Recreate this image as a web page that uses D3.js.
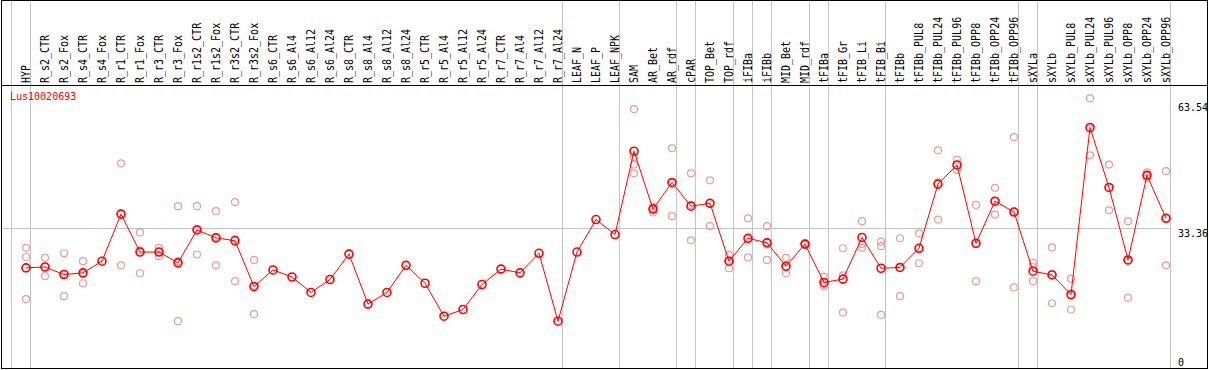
<!DOCTYPE html>
<html>
<head>
<meta charset="utf-8">
<script src="https://cdn.jsdelivr.net/npm/d3@7"></script>
<style>
  body { margin: 0; background: #fff; }
  text { font-family: 'DejaVu Sans Mono', monospace; font-size: 10px; }
</style>
</head>
<body>
<script>
var gene = 'Lus10020693';

var labels = ['HYP', 'R_s2_CTR', 'R_s2_Fox', 'R_s4_CTR', 'R_s4_Fox', 'R_r1_CTR', 'R_r1_Fox', 'R_r3_CTR', 'R_r3_Fox',
  'R_r1s2_CTR', 'R_r1s2_Fox', 'R_r3s2_CTR', 'R_r3s2_Fox', 'R_s6_CTR', 'R_s6_Al4', 'R_s6_Al12', 'R_s6_Al24',
  'R_s8_CTR', 'R_s8_Al4', 'R_s8_Al12', 'R_s8_Al24', 'R_r5_CTR', 'R_r5_Al4', 'R_r5_Al12', 'R_r5_Al24',
  'R_r7_CTR', 'R_r7_Al4', 'R_r7_Al12', 'R_r7_Al24', 'LEAF_N', 'LEAF_P', 'LEAF_NPK', 'SAM', 'AR_Bet', 'AR_rdf',
  'cPAR', 'TOP_Bet', 'TOP_rdf', 'iFIBa', 'iFIBb', 'MID_Bet', 'MID_rdf', 'tFIBa', 'tFIB_Gr', 'tFIB_Li', 'tFIB_Bi',
  'tFIBb', 'tFIBb_PUL8', 'tFIBb_PUL24', 'tFIBb_PUL96', 'tFIBb_OPP8', 'tFIBb_OPP24', 'tFIBb_OPP96',
  'sXYLa', 'sXYLb', 'sXYLb_PUL8', 'sXYLb_PUL24', 'sXYLb_PUL96', 'sXYLb_OPP8', 'sXYLb_OPP24', 'sXYLb_OPP96'];

// number of columns in each tissue group (separated by grey lines)
var groupSizes = [1, 28, 3, 3, 1, 2, 1, 1, 2, 1, 3, 7, 1, 7];

var means = [23.8, 24.0, 22.2, 22.6, 25.4, 36.7, 27.6, 27.6, 25.0, 32.9, 31.0, 30.3, 19.3, 23.3, 21.6, 17.9,
  21.0, 27.1, 15.1, 17.9, 24.4, 20.1, 12.2, 13.8, 19.8, 23.5, 22.6, 27.3, 11.0, 27.6, 35.4, 31.8, 51.8, 37.9,
  44.3, 38.6, 39.3, 25.4, 30.9, 29.8, 24.2, 29.5, 20.3, 21.1, 31.1, 23.7, 23.9, 28.5, 43.9, 48.5, 29.7, 39.8,
  37.2, 23.0, 22.1, 17.4, 57.5, 43.1, 25.7, 46.0, 35.7];

var replicates = [
  [28.6, 26.4, 16.3], [26.2, 24.0, 21.8], [27.3, 22.3, 17.0], [25.4, 22.3, 20.1], [],
  [48.9, 36.8, 24.4], [32.3, 28.0, 22.5], [28.6, 27.6, 26.6], [38.6, 25.4, 11.0], [38.6, 33.1, 27.0],
  [37.4, 31.2, 24.4], [39.6, 30.7, 20.6], [25.7, 19.5, 12.7],
  [], [], [], [], [], [], [], [], [], [], [], [], [], [], [], [], [], [], [],
  [61.9, 50.4, 48.6, 46.5], [38.5, 38.1, 37.1], [52.5, 44.2, 36.2], [46.5, 38.9, 30.4], [44.8, 39.3, 33.8],
  [26.9, 25.6, 23.7], [35.7, 30.7, 26.3], [33.8, 29.9, 25.7], [26.2, 23.9, 22.5], [29.7, 29.5, 29.3],
  [21.7, 19.8, 19.4], [28.5, 22.0, 13.1], [35.0, 29.5, 28.6], [30.1, 29.0, 12.5], [30.9, 23.8, 17.0],
  [32.1, 28.5, 24.9], [52.0, 44.3, 35.4], [49.7, 48.5, 47.3], [38.9, 29.6, 20.6], [43.0, 39.8, 36.6],
  [55.2, 37.3, 19.1], [25.0, 24.0, 20.6], [28.7, 22.3, 15.3], [21.2, 17.2, 13.8], [64.5, 57.2, 50.8],
  [48.6, 43.1, 37.6], [35.0, 25.5, 16.6], [46.7, 46.0, 45.3], [47.0, 35.7, 24.4]];

var yTicks = [0, 33.36, 63.54];

var width = 1209, height = 370;
var svg = d3.select('body').append('svg').attr('width', width).attr('height', height);

var x = d3.scalePoint().domain(labels).range([26, 1166]);
var y = d3.scaleLinear().domain([0, 63.54]).range([367, 102.3]);
var plotRight = x(labels[labels.length - 1]) + 4;

// group separators
var ends = [-1];
groupSizes.forEach(function (n) { ends.push(ends[ends.length - 1] + n); });
svg.selectAll('.sep').data(ends).enter().append('line')
  .attr('x1', function (k) { return (k < 0 ? x(labels[0]) - 19 : x(labels[k])) + 4.5; })
  .attr('x2', function (k) { return (k < 0 ? x(labels[0]) - 19 : x(labels[k])) + 4.5; })
  .attr('y1', 0).attr('y2', 368)
  .attr('stroke', '#c4c4c4');

// middle gridline
svg.append('line')
  .attr('x1', 1).attr('x2', plotRight)
  .attr('y1', Math.round(y(yTicks[1])) + 0.5).attr('y2', Math.round(y(yTicks[1])) + 0.5)
  .attr('stroke', '#c4c4c4');

// frame + header separator
svg.append('rect').attr('x', 1.5).attr('y', 0.5).attr('width', 1206).attr('height', 368)
  .attr('fill', 'none').attr('stroke', '#000');
svg.append('line').attr('x1', 1).attr('x2', 1208).attr('y1', 85.5).attr('y2', 85.5).attr('stroke', '#000');

// column labels
svg.selectAll('.lab').data(labels).enter().append('text')
  .attr('transform', function (d) { return 'translate(' + (x(d) + 4) + ',83) rotate(-90) scale(1,1.15)'; })
  .attr('fill', '#000')
  .text(function (d) { return d; });

// value labels on the right
svg.selectAll('.yl').data(yTicks).enter().append('text')
  .attr('x', 1178)
  .attr('y', function (d) { return d === 0 ? 366 : y(d) + 9; })
  .attr('fill', '#000')
  .text(function (d) { return d === 0 ? '0' : d.toFixed(2); });

svg.append('text').attr('x', 10).attr('y', 100).attr('fill', '#ff0000').text(gene);

// replicates
var reps = [];
replicates.forEach(function (r, i) { r.forEach(function (v) { reps.push({ k: labels[i], v: v }); }); });
svg.selectAll('.rep').data(reps).enter().append('circle')
  .attr('cx', function (d) { return x(d.k); })
  .attr('cy', function (d) { return y(d.v); })
  .attr('r', 3.5)
  .attr('fill', 'none')
  .attr('stroke', '#ec9a9a')
  .attr('stroke-width', 1.2);

// mean line
var line = d3.line()
  .x(function (d, i) { return x(labels[i]); })
  .y(function (d) { return y(d); });
svg.append('path').datum(means).attr('d', line)
  .attr('fill', 'none').attr('stroke', '#ff0000').attr('stroke-width', 1);

svg.selectAll('.mean').data(means).enter().append('circle')
  .attr('cx', function (d, i) { return x(labels[i]); })
  .attr('cy', function (d) { return y(d); })
  .attr('r', 4)
  .attr('fill', 'none')
  .attr('stroke', '#ff0000')
  .attr('stroke-width', 1.6);
</script>
</body>
</html>
